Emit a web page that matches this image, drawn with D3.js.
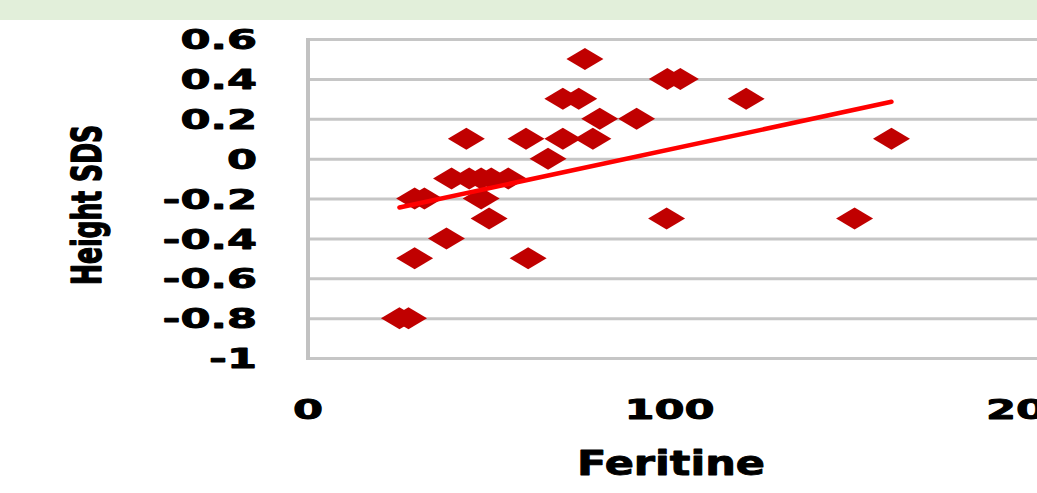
<!DOCTYPE html>
<html>
<head>
<meta charset="utf-8">
<script src="https://cdn.jsdelivr.net/npm/d3@7/dist/d3.min.js"></script>
<style>
  html, body { margin: 0; padding: 0; background: #ffffff; }
  svg { display: block; }
</style>
</head>
<body>
<svg id="chart" width="1037" height="493"></svg>
<script>
// ---- data ----
const feritine  = [25.3, 27.8, 29.5, 38.3, 50.1, 47.9, 29.5, 32.2, 39.7, 44.6, 47.9, 50.7, 55.4, 43.8, 60.3, 70.5, 78.8, 66.4, 70.5, 74.9, 76.6, 80.7, 90.9, 99.4, 103.0, 99.2, 60.9, 121.2, 151.2, 161.4];
const heightSDS = [-0.8, -0.8, -0.5, -0.4, -0.3, -0.2, -0.2, -0.2, -0.1, -0.1, -0.1, -0.1, -0.1, 0.1, 0.1, 0.1, 0.1, 0.0, 0.3, 0.3, 0.5, 0.2, 0.2, 0.4, 0.4, -0.3, -0.5, 0.3, -0.3, 0.1];
const trendX = [25.3, 161.4];
const trendY = [-0.245, 0.285];
const xTicks = [0, 100, 200];
const yTicks = [0.6, 0.4, 0.2, 0, -0.2, -0.4, -0.6, -0.8, -1];
const xTitle = "Feritine";
const yTitle = "Height SDS";

(function () {
const W = 1037, H = 493;
const svg = d3.select("#chart");
const pL = 308, pR = 1031, pT = 39, pB = 358;
const x = d3.scaleLinear().domain([0, 200]).range([pL, pR]);
const y = d3.scaleLinear().domain([-1, 0.6]).range([pB, pT]);
const sx = 1.6; // horizontal stretch of the text

// top band
svg.append("rect").attr("x", 0).attr("y", 0).attr("width", W).attr("height", 20).attr("fill", "#e2efda");

// gridlines
const grid = svg.append("g").attr("transform", `translate(${pL},0)`)
  .call(d3.axisRight(y).tickValues(yTicks).tickSize(W - pL).tickFormat(""));
grid.select(".domain").remove();
grid.selectAll(".tick line").attr("stroke", "#c6c6c6").attr("stroke-width", 3);

// y axis line
svg.append("line").attr("x1", pL).attr("x2", pL).attr("y1", y(0.6) - 1).attr("y2", y(-1) + 2)
  .attr("stroke", "#c2c2c2").attr("stroke-width", 4);

const boldText = sel => sel
  .style("font-family", "DejaVu Sans").style("font-weight", "bold")
  .attr("fill", "#000").attr("stroke", "#000").attr("stroke-width", 0.9).attr("stroke-linejoin", "round");

// y tick labels
const fmt = d => (d < 0 ? "-" : "") + String(Math.abs(d));
const yAx = svg.append("g").attr("transform", `translate(${pL},0)`)
  .call(d3.axisLeft(y).tickValues(yTicks).tickSize(0).tickFormat(fmt));
yAx.select(".domain").remove();
yAx.selectAll(".tick text")
  .attr("x", -51 / sx).attr("dy", "0.36em")
  .attr("transform", `scale(${sx},1)`)
  .attr("text-anchor", "end")
  .style("font-size", "27px")
  .call(boldText);

// x tick labels
const xAx = svg.append("g").attr("transform", `translate(0,409)`)
  .call(d3.axisBottom(x).tickValues(xTicks).tickSize(0).tickFormat(d => String(d)));
xAx.select(".domain").remove();
xAx.selectAll(".tick").each(function (d) {
  d3.select(this).attr("transform", `translate(${x(d)},0)`);
});
xAx.selectAll(".tick text")
  .attr("y", 0).attr("dy", "0.36em")
  .attr("transform", `scale(${sx},1)`)
  .attr("text-anchor", "middle")
  .style("font-size", "27px")
  .call(boldText);

// points (wide diamonds)
const hw = 18.5, hh = 11;
const diamond = `M0,${-hh}L${hw},0L0,${hh}L${-hw},0Z`;
svg.append("g").selectAll("path").data(feritine.map((f, i) => [f, heightSDS[i]])).join("path")
  .attr("d", diamond)
  .attr("transform", d => `translate(${x(d[0])},${y(d[1])})`)
  .attr("fill", "#c00000");

// trend line
svg.append("path")
  .datum(trendX.map((t, i) => [t, trendY[i]]))
  .attr("d", d3.line().x(d => x(d[0])).y(d => y(d[1])))
  .attr("stroke", "#ff0000").attr("stroke-width", 4.5).attr("fill", "none").attr("stroke-linecap", "round");

// axis titles
svg.append("text").attr("x", 671).attr("y", 463).attr("dy", "0.36em")
  .attr("text-anchor", "middle")
  .attr("textLength", 188).attr("lengthAdjust", "spacingAndGlyphs")
  .style("font-size", "33px")
  .call(boldText)
  .text(xTitle);

svg.append("text")
  .attr("transform", `translate(86,205) scale(1.5,1) rotate(-90)`)
  .attr("text-anchor", "middle").attr("dy", "0.36em")
  .attr("textLength", 160).attr("lengthAdjust", "spacingAndGlyphs")
  .style("font-size", "27px")
  .call(boldText)
  .style("font-family", "DejaVu Sans Condensed, DejaVu Sans")
  .text(yTitle);
})();
</script>
</body>
</html>
